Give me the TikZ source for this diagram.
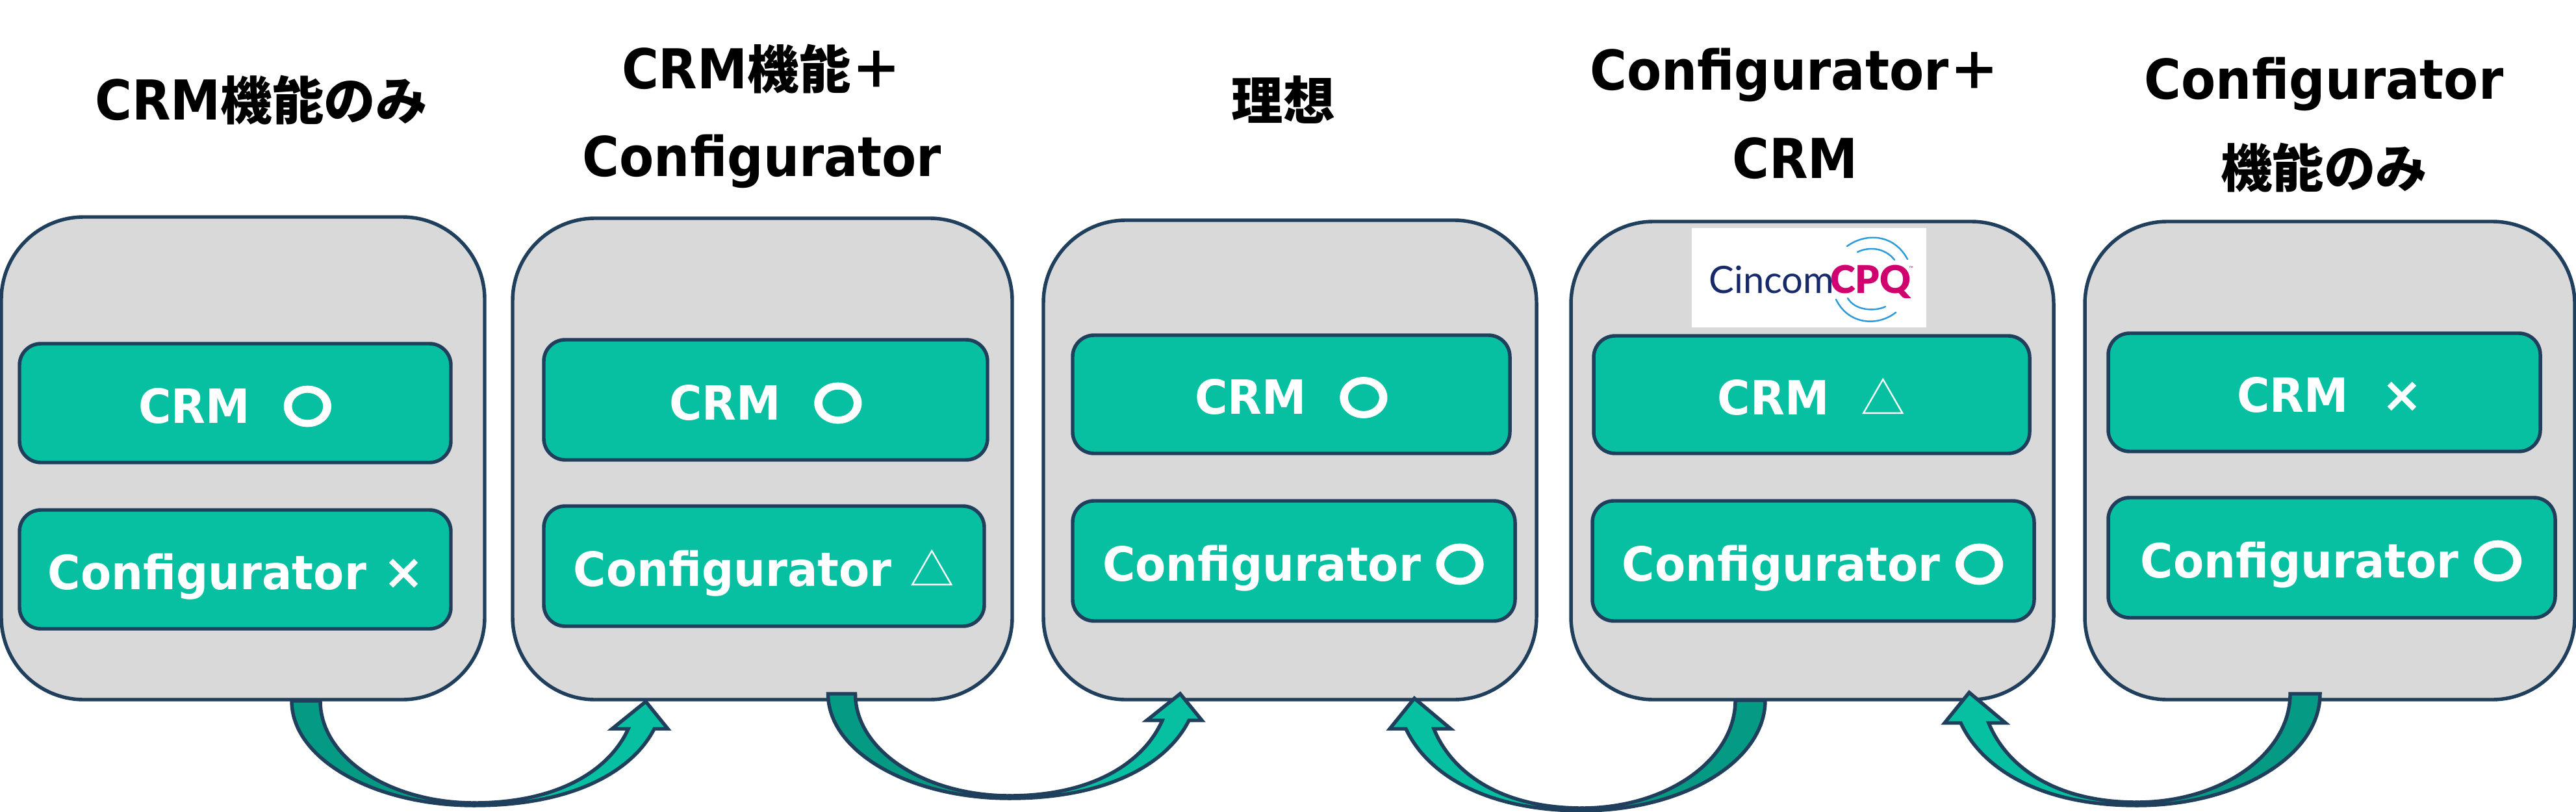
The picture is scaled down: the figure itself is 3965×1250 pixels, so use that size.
\documentclass[tikz,border=0pt]{standalone}
\usepackage{fontspec}
\usetikzlibrary{calc}
\setmainfont{DejaVu Sans}
\newfontfamily\tlat{DejaVu Sans}[FakeStretch=0.915]
\newfontfamily\blat{DejaVu Sans}[FakeStretch=0.945]
\newfontfamily\cjk{Noto Sans CJK JP}
\newfontfamily\markfont{Noto Sans CJK JP}[BoldFeatures={FakeBold=1.2}]
\newfontfamily\logofont{Lato}
\newfontfamily\logoheavy{Lato Black}
\definecolor{teal1}{HTML}{07C0A2}
\definecolor{teal2}{HTML}{059A83}
\definecolor{navy}{HTML}{203F5C}
\definecolor{panel}{HTML}{D9D9D9}
\definecolor{cpqpink}{HTML}{D1006F}
\definecolor{cpqnavy}{HTML}{15296B}
\definecolor{cpqblue}{HTML}{2A9BDB}
\tikzset{
  sized/.style 2 args={minimum width=#1*0.02cm,minimum height=#2*0.02cm,inner sep=0pt,outer sep=0pt},
  panelbox/.style={draw=navy,fill=panel,line width=3.1pt,rounded corners=2.54cm},
  itembox/.style={draw=navy,fill=teal1,line width=3.1pt,rounded corners=0.66cm,text=white,
     text height=35pt,text depth=0pt,
     font=\blat\bfseries\fontsize{41.4}{50}\selectfont},
  heading/.style={text=black,align=center,inner sep=0pt,font=\tlat\bfseries\fontsize{48.2}{77}\selectfont},
  tailpart/.style={draw=navy,fill=teal2,line width=3.1pt,line join=miter},
  headpart/.style={draw=navy,fill=teal1,line width=3.1pt,line join=miter},
  swoosh/.style={draw=cpqblue,line width=1.4pt,line cap=round},
}
\newcommand\J[1]{{\cjk\bfseries\fontsize{45.2}{77}\selectfont #1}}
\newcommand\Ring{\scalebox{1.08}[0.94]{\markfont\bfseries\fontsize{41}{50}\selectfont 〇}}
\newcommand\Cross{{\markfont\bfseries\fontsize{37}{50}\selectfont ×}}
\newcommand\Tri{{\cjk\mdseries\fontsize{39}{50}\selectfont △}}
\newcommand\tailpts[7]{\coordinate(#1ot)at(#2,#4);\coordinate(#1it)at(#3,#4);\coordinate(#1ob)at(#5,#6);\coordinate(#1ib)at(#5,#7);}
\newcommand\headpts[8]{\coordinate(#1tip)at(#2,#3);\coordinate(#1oh)at(#5,#4);\coordinate(#1ih)at(#6,#4);\coordinate(#1ohb)at(#7,#4);\coordinate(#1ihb)at(#8,#4);}
\newcommand\blockarrow[1]{%
  \coordinate(#1oc)at(#1oh|-#1ob);\coordinate(#1ic)at(#1ih|-#1ib);
  \filldraw[tailpart] (#1ot) .. controls ($(#1ot)!0.5523!(#1ot|-#1ob)$) and ($(#1ob)!0.5523!(#1ot|-#1ob)$) .. (#1ob)
     -- (#1ib) .. controls ($(#1ib)!0.5523!(#1it|-#1ib)$) and ($(#1it)!0.5523!(#1it|-#1ib)$) .. (#1it) -- cycle;
  \filldraw[headpart] (#1ob) .. controls ($(#1ob)!0.55!(#1oc)$) and ($(#1oh)+0.12*(#1ob)-0.12*(#1oc)+0.55*(#1oc)-0.55*(#1oh)$) .. (#1oh)
     -- (#1ohb) -- (#1tip) -- (#1ihb) -- (#1ih)
     .. controls ($(#1ih)+0.12*(#1ib)-0.12*(#1ic)+0.55*(#1ic)-0.55*(#1ih)$) and ($(#1ib)!0.55!(#1ic)$) .. (#1ib) -- cycle;
}
\begin{document}
\begin{tikzpicture}[x=0.02cm,y=-0.02cm]
\useasboundingbox (0,0) rectangle (3965,1250);
% panels
\node[panelbox,sized={744}{743}] (p1) at (374,705.5) {};
\node[panelbox,sized={769}{741}] (p2) at (1173.5,706.5) {};
\node[panelbox,sized={759}{738}] (p3) at (1985.5,708) {};
\node[panelbox,sized={743}{736}] (p4) at (2789.5,709) {};
\node[panelbox,sized={754}{736}] (p5) at (3586,709) {};
% items
\node[itembox,sized={664}{183}] (c1) at (362,620.5) {\hspace*{1pt}CRM\hspace{28pt}\Ring};
\node[itembox,sized={664}{183}] (k1) at (362,876.5) {\hspace*{2pt}Configurator\hspace{14pt}\Cross};
\node[itembox,sized={683}{185}] (c2) at (1178.5,615.5) {\hspace*{1pt}CRM\hspace{28pt}\Ring};
\node[itembox,sized={678}{185}] (k2) at (1176,871.5) {Configurator\hspace{16pt}\Tri};
\node[itembox,sized={673}{182}] (c3) at (1987.5,607) {\hspace*{1pt}CRM\hspace{28pt}\Ring};
\node[itembox,sized={681}{185}] (k3) at (1991.5,863.5) {Configurator\hspace{12pt}\Ring};
\node[itembox,sized={671}{181}] (c4) at (2788.5,607.5) {CRM\hspace{28pt}\Tri};
\node[itembox,sized={680}{185}] (k4) at (2791,863.5) {Configurator\hspace{12pt}\Ring};
\node[itembox,sized={665}{182}] (c5) at (3577.5,604) {\hspace*{10pt}CRM\hspace{28pt}\Cross};
\node[itembox,sized={688}{185}] (k5) at (3589,858.5) {Configurator\hspace{12pt}\Ring};
% headings
\node[heading] (t1) at (402,154) {CRM\J{機能のみ}};
\node[heading] (t2) at (1173,179) {CRM\J{機能＋}\\Configurator};
\node[heading] (t3) at (1975,154) {\J{理想}};
\node[heading] (t4) at (2763,175) {Configurator\J{＋}\\CRM};
\node[heading] (t5) at (3577,192) {Configurator\\\J{機能のみ}};
% logo
\node[fill=white,sized={361}{153}] (logo) at (2784.5,427.5) {};
\node[anchor=base west,inner sep=0pt,text=cpqnavy,font=\logofont\fontsize{33}{40}\selectfont] (lg1) at (2630,451) {Cincom};
\node[anchor=base west,inner sep=0pt,text=cpqpink,font=\logoheavy\fontsize{33.5}{40}\selectfont] (lg2) at (2817,451) {CPQ};
\node[anchor=base west,inner sep=0pt,text=cpqpink,font=\logofont\fontsize{5}{6}\selectfont] (lg3) at (2938,416) {™};
\coordinate (s1a) at (2843,379); \coordinate (s1b) at (2936,399);
\coordinate (s2a) at (2859,388); \coordinate (s2b) at (2916,400);
\coordinate (s3a) at (2826,461); \coordinate (s3b) at (2918,481);
\coordinate (s4a) at (2844,459); \coordinate (s4b) at (2902,472);
\draw[swoosh] (s1a) .. controls (2872,358) and (2915,360) .. (s1b);
\draw[swoosh] (s2a) .. controls (2875,380) and (2900,380) .. (s2b);
\draw[swoosh] (s3a) .. controls (2845,500) and (2890,503) .. (s3b);
\draw[swoosh] (s4a) .. controls (2855,478) and (2885,480) .. (s4b);
% arrows
\tailpts{aa}{449}{493}{1079}{730}{1240}{1236}
\headpts{aa}{994}{1080}{1122}{1007}{967}{1028}{942}
\blockarrow{aa}
\tailpts{bb}{1274.5}{1316.5}{1068}{1554}{1229}{1225}
\headpts{bb}{1816.5}{1068}{1109}{1830}{1789}{1850}{1765}
\blockarrow{bb}
\tailpts{cc}{2717}{2671}{1078}{2435}{1248}{1244}
\headpts{cc}{2177}{1075}{1122}{2164}{2207}{2139}{2233}
\blockarrow{cc}
\tailpts{dd}{3571}{3525}{1068}{3289}{1240}{1235}
\headpts{dd}{3031}{1066}{1113}{3018}{3061}{2993}{3087}
\blockarrow{dd}
\end{tikzpicture}
\end{document}
